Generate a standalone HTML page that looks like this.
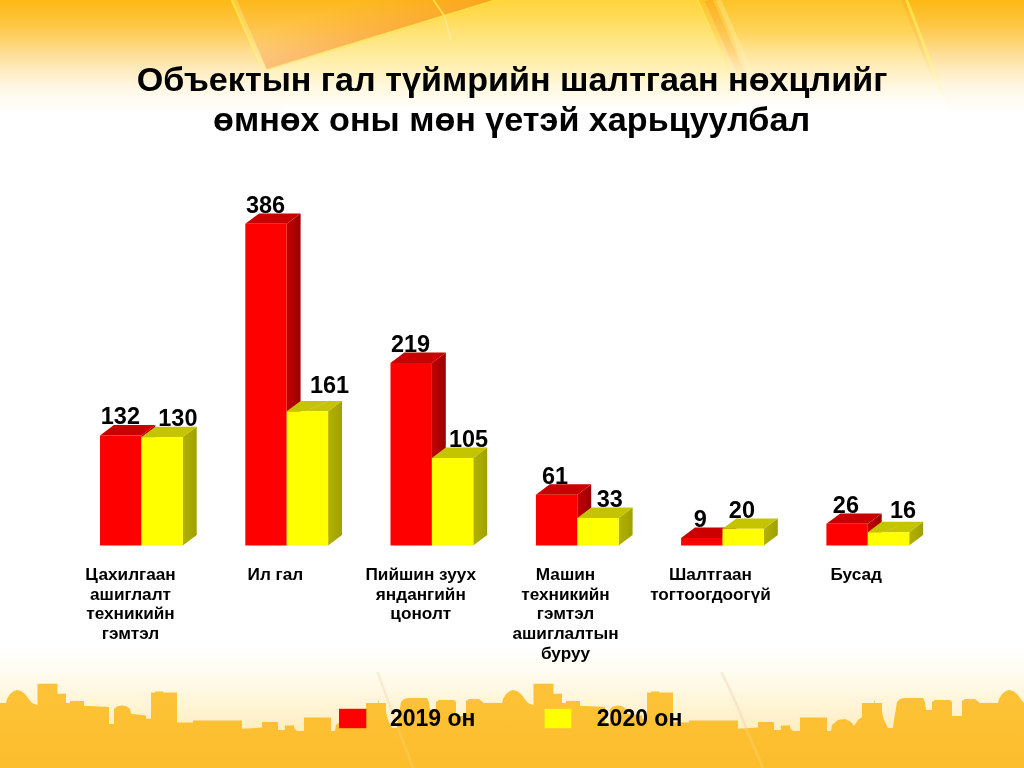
<!DOCTYPE html>
<html lang="mn">
<head>
<meta charset="utf-8">
<title>Объектын гал түймрийн шалтгаан нөхцлийг өмнөх оны мөн үетэй харьцуулбал</title>
<style>
html,body{margin:0;padding:0;background:#fff;}
body{width:1024px;height:768px;overflow:hidden;font-family:"Liberation Sans",Arial,sans-serif;}
svg{display:block;}
text{font-family:"Liberation Sans",Arial,sans-serif;font-weight:bold;fill:#000;}
.t{font-size:34.13px;text-anchor:middle;}
.v{font-size:23.47px;text-anchor:middle;}
.c{font-size:17.2px;text-anchor:middle;}
.l{font-size:23.0px;}
</style>
</head>
<body>
<svg width="1024" height="768" viewBox="0 0 1024 768">
<defs>
<linearGradient id="gtop" x1="0" y1="0" x2="0" y2="112" gradientUnits="userSpaceOnUse">
<stop offset="0" stop-color="#fdb813"/>
<stop offset="0.25" stop-color="#fec84a"/>
<stop offset="0.5" stop-color="#fee09c"/>
<stop offset="0.75" stop-color="#fff6e0"/>
<stop offset="1" stop-color="#ffffff"/>
</linearGradient>
<linearGradient id="gband" x1="0" y1="0" x2="0" y2="110" gradientUnits="userSpaceOnUse">
<stop offset="0" stop-color="#ffd43c"/>
<stop offset="0.14" stop-color="#ffda52"/>
<stop offset="0.27" stop-color="#ffe170"/>
<stop offset="0.41" stop-color="#ffe88c"/>
<stop offset="0.55" stop-color="#ffeea8"/>
<stop offset="0.78" stop-color="#fff8dc"/>
<stop offset="1" stop-color="#ffffff"/>
</linearGradient>
<linearGradient id="gtile" x1="0" y1="0" x2="0" y2="72" gradientUnits="userSpaceOnUse">
<stop offset="0" stop-color="#fdb71a"/>
<stop offset="0.4" stop-color="#fec54c"/>
<stop offset="0.76" stop-color="#fed68c"/>
<stop offset="1" stop-color="#fedfaa"/>
</linearGradient>
<linearGradient id="gtint" x1="267" y1="70" x2="256" y2="34" gradientUnits="userSpaceOnUse">
<stop offset="0" stop-color="#f88426" stop-opacity="0.36"/>
<stop offset="1" stop-color="#f88c28" stop-opacity="0"/>
</linearGradient>
<linearGradient id="gmid" x1="0" y1="0" x2="0" y2="108" gradientUnits="userSpaceOnUse">
<stop offset="0" stop-color="#fdc428"/>
<stop offset="0.3" stop-color="#ffd45c"/>
<stop offset="0.48" stop-color="#ffe496"/>
<stop offset="0.63" stop-color="#ffeebc"/>
<stop offset="0.83" stop-color="#fff9e8"/>
<stop offset="1" stop-color="#ffffff"/>
</linearGradient>
<linearGradient id="glineY" x1="0" y1="0" x2="0" y2="92" gradientUnits="userSpaceOnUse">
<stop offset="0" stop-color="#ffe23c" stop-opacity="0.9"/>
<stop offset="0.6" stop-color="#fff07a" stop-opacity="0.8"/>
<stop offset="1" stop-color="#fff8c0" stop-opacity="0.3"/>
</linearGradient>
<linearGradient id="glineO" x1="0" y1="0" x2="0" y2="85" gradientUnits="userSpaceOnUse">
<stop offset="0" stop-color="#fba81a" stop-opacity="0.9"/>
<stop offset="0.6" stop-color="#fdc060" stop-opacity="0.6"/>
<stop offset="1" stop-color="#ffe0a0" stop-opacity="0"/>
</linearGradient>
<linearGradient id="glineW" x1="0" y1="0" x2="0" y2="95" gradientUnits="userSpaceOnUse">
<stop offset="0" stop-color="#ffe070" stop-opacity="0.9"/>
<stop offset="0.6" stop-color="#fff0b0" stop-opacity="0.7"/>
<stop offset="1" stop-color="#ffffff" stop-opacity="0"/>
</linearGradient>
<linearGradient id="gsr" x1="0" y1="0" x2="1" y2="0">
<stop offset="0" stop-color="#c20000"/>
<stop offset="1" stop-color="#9a0000"/>
</linearGradient>
<linearGradient id="gsy" x1="0" y1="0" x2="1" y2="0">
<stop offset="0" stop-color="#b2b200"/>
<stop offset="1" stop-color="#a0a000"/>
</linearGradient>
<linearGradient id="gbot" x1="0" y1="648" x2="0" y2="735" gradientUnits="userSpaceOnUse">
<stop offset="0" stop-color="#ffffff"/>
<stop offset="0.3" stop-color="#fffbee"/>
<stop offset="0.62" stop-color="#fff5d8"/>
<stop offset="1" stop-color="#ffecbc"/>
</linearGradient>
<linearGradient id="gsky" x1="0" y1="683" x2="0" y2="768" gradientUnits="userSpaceOnUse">
<stop offset="0" stop-color="#fdc338"/>
<stop offset="1" stop-color="#fcbd2c"/>
</linearGradient>
</defs>
<rect x="0" y="0" width="1024" height="768" fill="#fff"/>
<!-- TOPBG -->
<rect x="0" y="0" width="1024" height="125" fill="url(#gtop)"/>
<polygon points="500,0 268,71 290,125 753,125 698,0" fill="url(#gband)"/>
<polygon points="698,0 753,125 955,125 907,0" fill="url(#gmid)"/>
<polygon points="237,0 267,70 496,0" fill="url(#gtile)"/>
<polygon points="237,0 267,70 496,0" fill="url(#gtint)"/>
<polygon points="231.7,0 262.2,68.8 267,70 237,0" fill="#fff0a0" opacity="0.35"/>
<g fill="none" stroke-linecap="butt">
<path d="M231.7,0 L262.2,68.8" stroke="url(#glineY)" stroke-width="2"/>
<path d="M262.2,68.8 L267,70 L500,-1" stroke="url(#glineY)" stroke-width="2.2"/>
<path d="M433.4,0 L444.4,16" stroke="url(#glineY)" stroke-width="2"/>
<path d="M444.4,16 L451,40" stroke="#fffbe0" stroke-width="1.5" opacity="0.35"/>
<path d="M697.6,0 L731,74" stroke="url(#glineY)" stroke-width="1.6"/>
<path d="M708.5,0 L744,80" stroke="url(#glineO)" stroke-width="8" opacity="0.75"/>
<path d="M718.5,0 L756,84" stroke="url(#glineW)" stroke-width="5" opacity="0.6"/>
<path d="M906.8,0 L943.3,95" stroke="url(#glineY)" stroke-width="2.6"/>
<path d="M903,0 L939.5,95" stroke="url(#glineO)" stroke-width="3" opacity="0.55"/>
</g>
<!-- /TOPBG -->
<rect x="0" y="640" width="1024" height="100" fill="url(#gbot)"/>
<path d="M0,768 L0,703 L6,703 L7,699 L10,694 L14,691 L17,690 L21,691 L25,694 L28,698 L31,702 L34,704 L37.5,705 L37.5,683.75 L57.5,683.75 L57.5,693.75 L66,693.75 L66,703 L70,703 L70,701 L84,701 L84,706 L90,706 L109,707 L109,724 L114,724 L114,709 L117,706.5 L122,705.5 L127,706.5 L130,709 L131,713.75 L146,715.5 L146,718.75 L151,718.75 L151,692.5 L155,692.5 L155,691.5 L163,691.5 L163,692.5 L177,692.5 L177,722.5 L193,722.5 L193,720.5 L242,720.5 L242,728.75 L262,727.5 L262,722 L278,722 L278,730 L285,730 L285,725.5 L294,725.5 L294,728 L297,731 L304,731 L304,717.5 L331,717.5 L331,731 L335,731 L336,725 L342,720 L349,719 L355,722 L358,726 L362,720 L366,717 L366,703 L378,703 L378.5,699 L379,703 L386,703 L386,712 L388,720 L389,722 L392,728 L397,728 L398,720 L401,702 L404,699 L408,698 L427,698 L429,702 L430,710 L436,710 L436,702 L439,700 L454,700 L456,702 L456,716 L466,716 L466,701 L469,699 L479,699 L484,703 L496,703 L496,703 L502,703 L503,699 L506,694 L510,691 L513,690 L517,691 L521,694 L524,698 L527,702 L530,704 L533.5,705 L533.5,683.75 L553.5,683.75 L553.5,693.75 L562,693.75 L562,703 L566,703 L566,701 L580,701 L580,706 L586,706 L605,707 L605,724 L610,724 L610,709 L613,706.5 L618,705.5 L623,706.5 L626,709 L627,713.75 L642,715.5 L642,718.75 L647,718.75 L647,692.5 L651,692.5 L651,691.5 L659,691.5 L659,692.5 L673,692.5 L673,722.5 L689,722.5 L689,720.5 L738,720.5 L738,728.75 L758,727.5 L758,722 L774,722 L774,730 L781,730 L781,725.5 L790,725.5 L790,728 L793,731 L800,731 L800,717.5 L827,717.5 L827,731 L831,731 L832,725 L838,720 L845,719 L851,722 L854,726 L858,720 L862,717 L862,703 L874,703 L874.5,699 L875,703 L882,703 L882,712 L884,720 L885,722 L888,728 L893,728 L894,720 L897,702 L900,699 L904,698 L923,698 L925,702 L926,710 L932,710 L932,702 L935,700 L950,700 L952,702 L952,716 L962,716 L962,701 L965,699 L975,699 L980,703 L992,703 L992,703 L998,703 L999,699 L1002,694 L1006,691 L1009,690 L1013,691 L1017,694 L1020,698 L1023,702 L1026,704 L1029.5,705 L1029.5,683.75 L1030,768 Z" fill="url(#gsky)"/>
<g fill="none" stroke-linecap="round">
<path d="M721.7,673 Q738,705 746.7,730" stroke="#ecc9a8" stroke-width="2.5" opacity="0.35"/>
<path d="M746.7,730 L763,768" stroke="#ffd870" stroke-width="3" opacity="0.35"/>
<path d="M378,673 Q386,695 393,715" stroke="#ecc9a8" stroke-width="2.5" opacity="0.3"/>
<path d="M393,715 L413,768" stroke="#ffd870" stroke-width="3" opacity="0.3"/>
</g>
<text class="t" x="512.1" y="90.9">Объектын гал түймрийн шалтгаан нөхцлийг</text>
<text class="t" x="511.6" y="130.6">өмнөх оны мөн үетэй харьцуулбал</text>
<g id="bars">
<polygon fill="url(#gsr)" points="141.4,545.5 155.3,535.1 155.3,425.1 141.4,435.5"/>
<polygon fill="#ca0000" points="100.0,435.5 113.9,425.1 155.3,425.1 141.4,435.5"/>
<rect fill="#ff0000" x="100.0" y="435.5" width="41.4" height="110.0"/>
<polygon fill="url(#gsy)" points="182.8,545.5 196.7,535.1 196.7,426.7 182.8,437.1"/>
<polygon fill="#c4c400" points="141.4,437.1 155.3,426.7 196.7,426.7 182.8,437.1"/>
<rect fill="#ffff00" x="141.4" y="437.1" width="41.4" height="108.4"/>
<polygon fill="url(#gsr)" points="286.7,545.5 300.6,535.1 300.6,213.4 286.7,223.8"/>
<polygon fill="#ca0000" points="245.3,223.8 259.2,213.4 300.6,213.4 286.7,223.8"/>
<rect fill="#ff0000" x="245.3" y="223.8" width="41.4" height="321.7"/>
<polygon fill="url(#gsy)" points="328.1,545.5 342.0,535.1 342.0,400.9 328.1,411.3"/>
<polygon fill="#c4c400" points="286.7,411.3 300.6,400.9 342.0,400.9 328.1,411.3"/>
<rect fill="#ffff00" x="286.7" y="411.3" width="41.4" height="134.2"/>
<polygon fill="url(#gsr)" points="431.9,545.5 445.8,535.1 445.8,352.6 431.9,363.0"/>
<polygon fill="#ca0000" points="390.5,363.0 404.4,352.6 445.8,352.6 431.9,363.0"/>
<rect fill="#ff0000" x="390.5" y="363.0" width="41.4" height="182.5"/>
<polygon fill="url(#gsy)" points="473.3,545.5 487.2,535.1 487.2,447.6 473.3,458.0"/>
<polygon fill="#c4c400" points="431.9,458.0 445.8,447.6 487.2,447.6 473.3,458.0"/>
<rect fill="#ffff00" x="431.9" y="458.0" width="41.4" height="87.5"/>
<polygon fill="url(#gsr)" points="577.3,545.5 591.2,535.1 591.2,484.3 577.3,494.7"/>
<polygon fill="#ca0000" points="535.9,494.7 549.8,484.3 591.2,484.3 577.3,494.7"/>
<rect fill="#ff0000" x="535.9" y="494.7" width="41.4" height="50.8"/>
<polygon fill="url(#gsy)" points="618.7,545.5 632.6,535.1 632.6,507.6 618.7,518.0"/>
<polygon fill="#c4c400" points="577.3,518.0 591.2,507.6 632.6,507.6 618.7,518.0"/>
<rect fill="#ffff00" x="577.3" y="518.0" width="41.4" height="27.5"/>
<polygon fill="url(#gsr)" points="722.5,545.5 736.4,535.1 736.4,527.6 722.5,538.0"/>
<polygon fill="#ca0000" points="681.1,538.0 695.0,527.6 736.4,527.6 722.5,538.0"/>
<rect fill="#ff0000" x="681.1" y="538.0" width="41.4" height="7.5"/>
<polygon fill="url(#gsy)" points="763.9,545.5 777.8,535.1 777.8,518.4 763.9,528.8"/>
<polygon fill="#c4c400" points="722.5,528.8 736.4,518.4 777.8,518.4 763.9,528.8"/>
<rect fill="#ffff00" x="722.5" y="528.8" width="41.4" height="16.7"/>
<polygon fill="url(#gsr)" points="867.8,545.5 881.7,535.1 881.7,513.4 867.8,523.8"/>
<polygon fill="#ca0000" points="826.4,523.8 840.3,513.4 881.7,513.4 867.8,523.8"/>
<rect fill="#ff0000" x="826.4" y="523.8" width="41.4" height="21.7"/>
<polygon fill="url(#gsy)" points="909.2,545.5 923.1,535.1 923.1,521.8 909.2,532.2"/>
<polygon fill="#c4c400" points="867.8,532.2 881.7,521.8 923.1,521.8 909.2,532.2"/>
<rect fill="#ffff00" x="867.8" y="532.2" width="41.4" height="13.3"/>
<path d="M307.3,410.5 L329.7,400.5 M886,531 L897,526.5" stroke="#cfcf86" stroke-width="0.7" opacity="0.7" fill="none"/>
</g>
<g id="vals">
<text class="v" x="120.4" y="423.9">132</text>
<text class="v" x="177.9" y="425.7">130</text>
<text class="v" x="265.5" y="212.9">386</text>
<text class="v" x="329.5" y="393.0">161</text>
<text class="v" x="410.5" y="351.7">219</text>
<text class="v" x="468.5" y="446.9">105</text>
<text class="v" x="555.0" y="483.6">61</text>
<text class="v" x="609.8" y="507.0">33</text>
<text class="v" x="700.4" y="526.5">9</text>
<text class="v" x="741.9" y="517.6">20</text>
<text class="v" x="845.9" y="512.8">26</text>
<text class="v" x="903.1" y="518.3">16</text>
</g>
<g id="cats">
<text class="c" x="130.5" y="580.0">Цахилгаан</text>
<text class="c" x="130.5" y="599.6">ашиглалт</text>
<text class="c" x="130.5" y="619.3">техникийн</text>
<text class="c" x="130.5" y="639.0">гэмтэл</text>
<text class="c" x="275.4" y="580.0">Ил гал</text>
<text class="c" x="420.8" y="580.0">Пийшин зуух</text>
<text class="c" x="420.8" y="599.6">яндангийн</text>
<text class="c" x="420.8" y="619.3">цонолт</text>
<text class="c" x="565.5" y="580.0">Машин</text>
<text class="c" x="565.5" y="599.6">техникийн</text>
<text class="c" x="565.5" y="619.3">гэмтэл</text>
<text class="c" x="565.5" y="639.0">ашиглалтын</text>
<text class="c" x="565.5" y="658.6">буруу</text>
<text class="c" x="710.5" y="580.0">Шалтгаан</text>
<text class="c" x="710.5" y="599.6">тогтоогдоогүй</text>
<text class="c" x="856.2" y="580.0">Бусад</text>
</g>
<rect x="339" y="708.8" width="27.3" height="19.4" fill="#ff0000"/>
<text class="l" x="390" y="726.4">2019 он</text>
<rect x="544.6" y="708.8" width="26.8" height="19.4" fill="#ffff00"/>
<text class="l" x="596.8" y="726.4">2020 он</text>
</svg>
</body>
</html>
